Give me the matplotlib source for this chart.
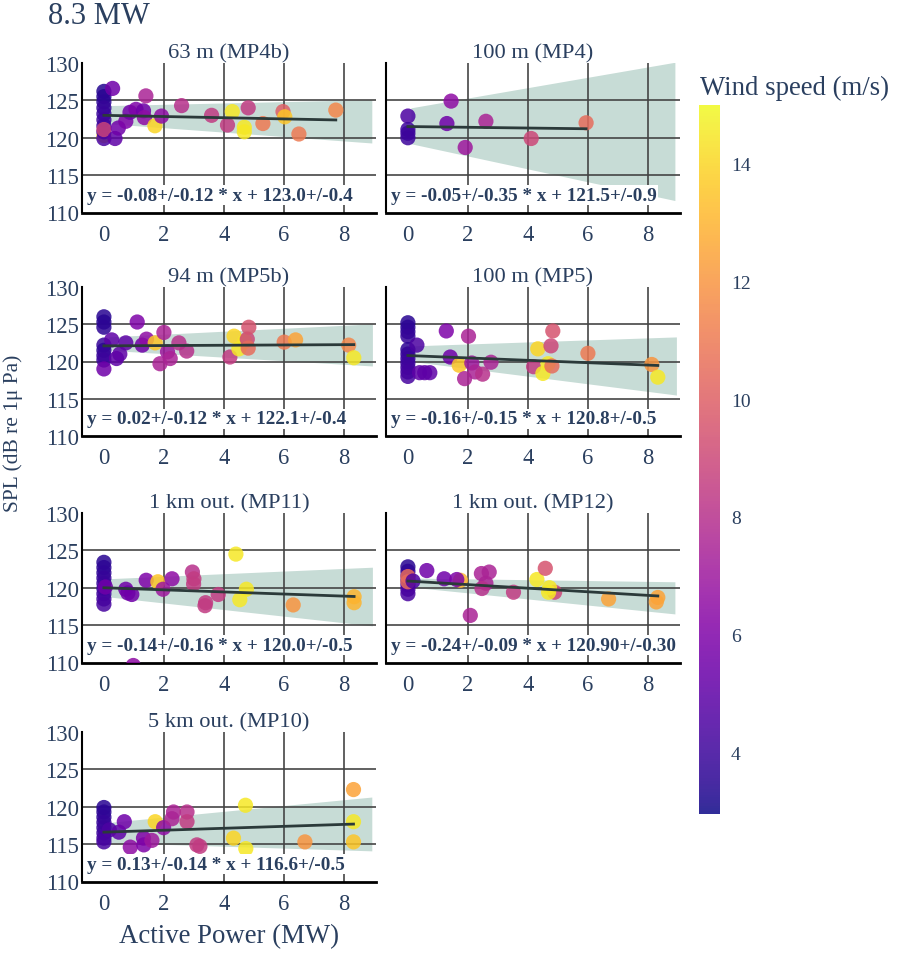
import numpy as np
import matplotlib.pyplot as plt
from matplotlib import cm, colors

plt.rcParams['font.family'] = ['Liberation Serif', 'DejaVu Serif']
TXT = '#2a3f5f'

# ---- data (active power MW, SPL dB, wind speed m/s) ----
titles = ['63 m (MP4b)', '100 m (MP4)', '94 m (MP5b)', '100 m (MP5)',
          '1 km out. (MP11)', '1 km out. (MP12)', '5 km out. (MP10)']

mp4b_x = [0, 0, 0, 0, 0, 0, 0, 0, 0, 0, 0,
          0.29, 0.37, 0.48, 0.73, 0.87, 1.07, 1.32, 1.35, 1.40, 1.70, 1.92, 2.59,
          3.59, 4.12, 4.28, 4.68, 4.68, 4.81, 5.30, 5.97, 6.03, 6.50, 7.73]
mp4b_y = [120.3, 126.2, 125.5, 124.8, 124.0, 123.2, 122.4, 121.6, 120.8, 119.9, 121.1,
          126.6, 119.9, 121.3, 122.2, 123.4, 123.8, 123.6, 122.7, 125.6, 121.6, 122.9, 124.3,
          123.0, 121.7, 123.5, 121.4, 120.8, 124.0, 121.9, 123.5, 122.8, 120.5, 123.7]
mp4b_ws = [14.0, 3.4, 3.5, 3.6, 3.8, 3.9, 4.0, 4.1, 4.2, 4.4, 8.8,
           5.5, 5.0, 5.5, 6.0, 5.5, 6.0, 5.5, 6.5, 7.5, 14.0, 6.5, 8.0,
           8.5, 8.5, 14.5, 14.5, 14.5, 8.5, 11.0, 10.0, 13.5, 11.0, 11.5]

mp4_x = [0, 0, 0, 0, 1.44, 1.30, 1.91, 2.60, 4.11, 5.94]
mp4_y = [122.9, 121.1, 120.6, 120.0, 124.9, 121.9, 118.7, 122.2, 119.9, 122.0]
mp4_ws = [4.5, 4.0, 4.0, 4.0, 6.5, 5.5, 7.0, 7.5, 9.0, 10.5]

mp5b_x = [0, 0, 0, 0, 0, 0, 0, 0,
          0.26, 0.42, 0.53, 0.73, 1.11, 1.28, 1.42, 1.71, 1.87, 2.00, 2.12, 2.21, 2.50,
          2.76, 4.20, 4.34, 4.50, 4.70, 4.78, 4.81, 4.83, 6.01, 6.39, 8.16, 8.33]
mp5b_y = [126.0, 125.3, 124.6, 122.2, 121.5, 120.8, 120.2, 119.0,
          122.9, 120.4, 121.0, 122.5, 125.3, 122.2, 123.0, 122.5, 119.7, 123.9, 121.3, 120.4, 122.5,
          121.4, 120.6, 123.4, 121.7, 122.7, 123.0, 121.8, 124.6, 122.6, 122.9, 122.2, 120.5]
mp5b_ws = [3.5, 3.5, 3.6, 3.8, 3.6, 3.9, 4.0, 5.5,
           5.0, 5.0, 5.0, 5.0, 6.0, 5.5, 6.5, 13.5, 7.5, 7.5, 7.0, 7.5, 8.0,
           8.0, 8.5, 14.0, 14.5, 14.5, 9.0, 10.5, 9.5, 11.0, 12.5, 11.5, 14.5]

mp5_x = [0, 0, 0, 0, 0, 0, 0, 0, 0, 0, 0,
         0.30, 0.39, 0.56, 0.73, 1.28, 1.41, 1.71, 1.89, 2.02, 2.13, 2.24, 2.49,
         2.77, 4.19, 4.33, 4.50, 4.67, 4.77, 4.80, 4.83, 6.00, 8.13, 8.33]
mp5_y = [125.2, 124.6, 124.0, 123.4, 121.6, 121.0, 120.4, 119.8, 119.2, 118.6, 118.0,
         122.2, 118.5, 118.5, 118.5, 124.1, 120.6, 119.5, 117.7, 123.4, 119.8, 118.6, 118.3,
         119.9, 119.3, 121.7, 118.4, 119.7, 122.1, 119.4, 124.1, 121.1, 119.6, 117.9]
mp5_ws = [3.5, 3.6, 3.7, 3.8, 3.6, 3.8, 3.9, 4.0, 4.1, 4.2, 4.3,
          4.5, 5.0, 5.0, 5.0, 6.0, 5.5, 13.5, 7.5, 7.5, 7.0, 7.5, 8.0,
          7.5, 8.5, 14.0, 14.5, 14.5, 9.0, 10.5, 9.5, 11.0, 12.0, 14.5]

mp11_x = [0, 0, 0, 0, 0, 0, 0, 0, 0, 0.05,
          0.73, 0.80, 0.93, 1.41, 1.80, 1.97, 2.27, 2.95, 3.00, 2.99,
          3.39, 3.37, 3.81, 4.40, 4.75, 4.53, 6.31, 8.34, 8.34, 0.98]
mp11_y = [123.4, 122.7, 122.0, 121.3, 120.6, 119.9, 119.2, 118.5, 117.8, 120.1,
          119.8, 119.3, 119.1, 121.0, 120.8, 119.8, 121.2, 122.1, 121.2, 120.5,
          118.0, 117.6, 119.1, 124.5, 119.8, 118.4, 117.7, 118.8, 118.0, 109.6]
mp11_ws = [3.5, 3.6, 3.7, 3.8, 3.9, 4.0, 4.1, 4.2, 4.3, 5.5,
           5.5, 5.5, 5.5, 6.0, 13.5, 7.0, 6.5, 8.0, 8.5, 8.5,
           8.5, 8.5, 8.5, 14.5, 14.5, 14.5, 12.0, 13.0, 13.0, 6.5]

mp12_x = [0, 0, 0, 0, 0, 0, 0, 0, 0,
          0.17, 0.63, 1.21, 1.75, 1.63, 2.08, 2.45, 2.60, 2.71, 2.47,
          3.52, 4.89, 4.30, 4.58, 4.72, 4.69, 6.69, 8.33, 8.28]
mp12_y = [122.8, 122.2, 121.6, 121.0, 120.4, 119.8, 119.2, 121.5, 120.8,
          120.9, 122.3, 121.2, 121.0, 121.1, 116.3, 121.9, 120.6, 122.1, 119.9,
          119.4, 119.4, 121.1, 122.6, 120.0, 119.4, 118.5, 118.7, 118.1]
mp12_ws = [3.5, 3.7, 3.8, 4.0, 4.1, 4.3, 4.4, 10.5, 10.5,
           4.5, 5.5, 5.5, 13.0, 6.0, 7.5, 7.5, 7.5, 7.5, 8.0,
           8.5, 9.0, 14.5, 9.5, 14.5, 14.5, 12.5, 12.5, 12.5]

mp10_x = [0, 0, 0, 0, 0, 0, 0, 0,
          0.18, 0.50, 0.68, 0.88, 1.32, 1.33, 1.60, 1.71, 1.99, 2.27, 2.32,
          2.77, 2.77, 3.10, 3.20, 4.32, 4.72, 4.73, 6.70, 8.32, 8.32, 8.32]
mp10_y = [119.9, 119.3, 118.6, 117.9, 117.2, 116.5, 115.8, 115.3,
          116.9, 116.6, 118.0, 114.6, 115.8, 114.9, 115.5, 118.0, 117.2, 118.4, 119.3,
          119.3, 118.0, 114.9, 114.7, 115.8, 120.2, 114.4, 115.3, 122.3, 118.0, 115.3]
mp10_ws = [3.5, 3.6, 3.7, 3.8, 3.9, 4.0, 4.2, 4.3,
           4.5, 5.0, 5.5, 6.5, 6.0, 6.0, 7.0, 14.0, 6.5, 7.5, 7.5,
           8.0, 8.5, 8.5, 8.5, 14.0, 14.5, 14.5, 12.0, 12.5, 14.5, 13.5]

# fit slope, intercept and the labels printed in each panel
fit_slope = [-0.08, -0.05, 0.02, -0.16, -0.14, -0.24, 0.13]
fit_icpt = [123.0, 121.5, 122.1, 120.8, 120.0, 120.9, 116.6]
fit_text = ['y = -0.08+/-0.12 * x + 123.0+/-0.4',
            'y = -0.05+/-0.35 * x + 121.5+/-0.9',
            'y = 0.02+/-0.12 * x + 122.1+/-0.4',
            'y = -0.16+/-0.15 * x + 120.8+/-0.5',
            'y = -0.14+/-0.16 * x + 120.0+/-0.5',
            'y = -0.24+/-0.09 * x + 120.90+/-0.30',
            'y = 0.13+/-0.14 * x + 116.6+/-0.5']

# confidence band: x start/end, lower and upper edge at those x
band_x = [[0.10, 8.93], [0.10, 8.90], [0.15, 8.95], [0.15, 8.95],
          [0.10, 8.95], [0.08, 8.90], [0.16, 8.93]]
band_lo = [[121.9, 119.3], [119.2, 111.6], [121.5, 119.4], [120.0, 115.5],
           [118.8, 114.9], [120.1, 116.5], [115.2, 114.1]]
band_hi = [[124.3, 125.1], [124.0, 130.1], [123.3, 125.05], [122.1, 123.3],
           [121.2, 122.75], [121.3, 120.8], [117.9, 121.3]]

xs_all = [mp4b_x, mp4_x, mp5b_x, mp5_x, mp11_x, mp12_x, mp10_x]
ys_all = [mp4b_y, mp4_y, mp5b_y, mp5_y, mp11_y, mp12_y, mp10_y]
ws_all = [mp4b_ws, mp4_ws, mp5b_ws, mp5_ws, mp11_ws, mp12_ws, mp10_ws]

x_ticks = [0, 2, 4, 6, 8]
y_ticks = [110, 115, 120, 125, 130]

# ---- layout ----
W, H = 899, 954
fig = plt.figure(figsize=(W / 100, H / 100), dpi=100)


def px_axes(l, t, r, b):
    return fig.add_axes([l / W, 1 - b / H, (r - l) / W, (b - t) / H])


col_px = [(82, 376), (386, 680)]
row_px = [(64, 213.5), (288, 437), (514, 663.5), (733, 882.5)]

norm = colors.Normalize(vmin=2.95, vmax=15.0)
cmap = plt.get_cmap('plasma')

for i in range(7):
    r, c = divmod(i, 2)
    ax = px_axes(col_px[c][0], row_px[r][0], col_px[c][1], row_px[r][1])
    ax.set_xlim(-0.73, 9.07)
    ax.set_ylim(110, 130)

    ax.fill_between(band_x[i], band_lo[i], band_hi[i], color='#c7dcd6', lw=0, zorder=1)
    for v in y_ticks[1:-1]:
        ax.axhline(v, color='#444444', lw=1.4, alpha=0.85, zorder=1.5)
    for v in x_ticks[1:]:
        ax.axvline(v, color='#444444', lw=1.4, alpha=0.85, zorder=1.5)

    ax.scatter(xs_all[i], ys_all[i], c=ws_all[i], cmap=cmap, norm=norm,
               s=120, alpha=0.85, lw=0, zorder=3)

    xl = np.array([0, max(xs_all[i])])
    ax.plot(xl, fit_slope[i] * xl + fit_icpt[i], color='#2b3a3a', lw=2, zorder=4)

    ax.text(-0.57, 112.3, fit_text[i], fontsize=13.8, fontweight='bold', color=TXT,
            va='center', ha='left', zorder=5,
            bbox=dict(fc='white', ec='none', pad=1.0))

    ax.set_xticks(x_ticks)
    ax.set_yticks(y_ticks)
    ax.tick_params(length=0, labelsize=16.3, labelcolor=TXT)
    ax.tick_params(axis='y', pad=2)
    ax.tick_params(axis='x', pad=8)
    if c == 1:
        ax.tick_params(labelleft=False)
    for s in ['top', 'right']:
        ax.spines[s].set_visible(False)
    ax.spines['left'].set_linewidth(1.5)
    ax.spines['bottom'].set_linewidth(2)
    ax.set_title(titles[i], fontsize=16.2, color=TXT, pad=4)

# colorbar
cax = px_axes(699, 106, 720, 815)
sm = cm.ScalarMappable(norm=norm, cmap=cmap)
cb = fig.colorbar(sm, cax=cax, ticks=[4, 6, 8, 10, 12, 14])
cb.solids.set_alpha(0.85)
cb.outline.set_visible(False)
cb.ax.tick_params(length=0, labelsize=14, labelcolor=TXT, pad=8)
fig.text(700 / W, 1 - 88 / H, 'Wind speed (m/s)', fontsize=19.3, color=TXT,
         ha='left', va='center')

fig.text(48 / W, 1 - 17 / H, '8.3 MW', fontsize=22, color=TXT, ha='left', va='center')
fig.text(13 / W, 1 - 433 / H, 'SPL (dB re 1\u03bc Pa)', fontsize=15.5, color=TXT,
         rotation=90, ha='center', va='center')
fig.text(229 / W, 1 - 937 / H, 'Active Power (MW)', fontsize=19.3, color=TXT,
         ha='center', va='center')

fig.savefig('out.png', dpi=100)
